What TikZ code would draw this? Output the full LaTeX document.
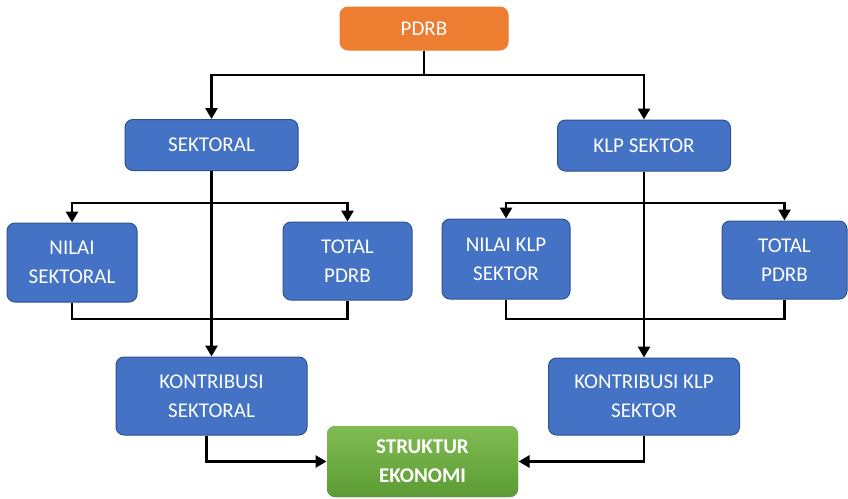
\documentclass[tikz,border=0pt]{standalone}
\usepackage{fontspec}
\setmainfont{Carlito}
\usetikzlibrary{arrows.meta}

\definecolor{boxblue}{HTML}{4472C4}
\definecolor{boxedge}{HTML}{2F528F}
\definecolor{boxorange}{HTML}{ED7D31}
\definecolor{grtop}{HTML}{80BC52}
\definecolor{grbot}{HTML}{5C9B34}

\tikzstyle{line} = [line width=2.8pt, black]
\tikzstyle{arw} = [line width=2.8pt, black, -{Triangle[length=11pt,width=12pt]}]
\tikzstyle{blok} = [draw=boxedge, line width=1pt, fill=boxblue, rounded corners=8pt, text=white, align=center, font=\fontsize{21}{29}\selectfont]

\begin{document}
\begin{tikzpicture}[x=1pt,y=-1pt]
\useasboundingbox (0,0) rectangle (848,498);

\node[blok, fill=boxorange, draw=boxorange, minimum width=168pt, minimum height=43pt] (pdrb) at (424,28.5) {PDRB};

\node[blok, minimum width=173pt, minimum height=51pt] (sek) at (211.5,145) {SEKTORAL};
\node[blok, minimum width=173pt, minimum height=51pt] (klp) at (644,145.5) {KLP SEKTOR};

\node[blok, minimum width=130pt, minimum height=79pt] (nsek) at (72,262.5) {NILAI\\SEKTORAL};
\node[blok, minimum width=129pt, minimum height=78pt] (tpa) at (347.5,261) {TOTAL\\PDRB};
\node[blok, minimum width=128pt, minimum height=80pt] (nklp) at (506,259) {NILAI KLP\\SEKTOR};
\node[blok, minimum width=125pt, minimum height=78pt] (tpb) at (784.5,260) {TOTAL\\PDRB};

\node[blok, minimum width=191pt, minimum height=78pt] (ksek) at (211.5,396) {KONTRIBUSI\\SEKTORAL};
\node[blok, minimum width=191pt, minimum height=77pt] (kklp) at (644,396.5) {KONTRIBUSI KLP\\SEKTOR};

\node[blok, draw=none, top color=grtop, bottom color=grbot, font=\fontsize{21}{29}\selectfont\bfseries, minimum width=191pt, minimum height=71pt] (struk) at (422.5,461.5) {STRUKTUR\\EKONOMI};

\coordinate (top) at (424,75);
\coordinate (sa) at (211.5,203);
\coordinate (sb) at (211.5,319);
\coordinate (ka) at (644,203);
\coordinate (kb) at (644,319);

\draw[line] (pdrb) -- (top);
\draw[arw] (top) -| (sek);
\draw[arw] (top) -| (klp);

\draw[arw] (sek) -- (ksek);
\draw[arw] (sa) -| (nsek);
\draw[arw] (sa) -| (tpa);
\draw[line] (nsek) |- (sb) -| (tpa);

\draw[arw] (klp) -- (kklp);
\draw[arw] (ka) -| (nklp);
\draw[arw] (ka) -| (tpb);
\draw[line] (nklp) |- (kb) -| (tpb);

\draw[arw] ([xshift=-5pt]ksek.south) |- (struk);
\draw[arw] (kklp.south) |- (struk);

\end{tikzpicture}
\end{document}
